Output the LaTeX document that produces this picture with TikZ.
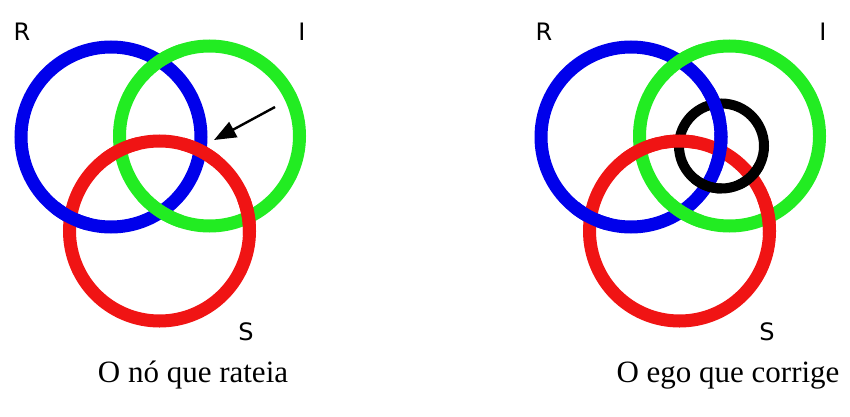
\documentclass[tikz,border=0pt]{standalone}
\usepackage{fontspec}
\setmainfont{Liberation Serif}
\newfontfamily\labelfont{DejaVu Sans}
\usetikzlibrary{arrows.meta}
\definecolor{ringblue}{RGB}{0,0,235}
\definecolor{ringgreen}{RGB}{34,236,34}
\definecolor{ringred}{RGB}{240,20,20}
\tikzset{
  ring/.style={line width=13pt},
  egoring/.style={line width=10pt, black},
  letter/.style={font=\labelfont\fontsize{24}{28}\selectfont, inner sep=0pt},
  caption/.style={font=\fontsize{31}{36}\selectfont, inner sep=0pt, anchor=base},
}
\begin{document}
\begin{tikzpicture}[x=1pt, y=1pt]
  \useasboundingbox (0,0) rectangle (850,416);

  % left knot
  \coordinate (BL) at (111,279);
  \coordinate (GL) at (209.5,280);
  \coordinate (RL) at (159.5,185);
  \draw[ring, ringblue] (BL) circle[radius=90];
  \draw[ring, ringgreen] (GL) circle[radius=90];
  \draw[ring, ringred] (RL) circle[radius=90];
  % crossings
  \draw[ring, ringgreen] (GL) ++(108.2:90) arc[start angle=108.2, end angle=138.2, radius=90];
  \draw[ring, ringgreen] (GL) ++(221.8:90) arc[start angle=221.8, end angle=251.8, radius=90];
  \draw[ring, ringred] (RL) ++(103.6:90) arc[start angle=103.6, end angle=127.6, radius=90];
  \draw[ring, ringred] (RL) ++(-3.1:90) arc[start angle=-3.1, end angle=20.9, radius=90];
  \draw[ring, ringred] (RL) ++(51.3:90) arc[start angle=51.3, end angle=75.3, radius=90];
  \draw[ring, ringblue] (BL) ++(231.3:90) arc[start angle=231.3, end angle=255.3, radius=90];

  \node[letter] (rleft) at (22,384) {R};
  \node[letter] (ileft) at (302,384) {I};
  \node[letter] (sleft) at (246,84) {S};

  \coordinate (arrtail) at (275,309);
  \coordinate (arrtip) at (214,276);
  \draw[line width=2.4pt, -{Triangle[length=22pt, width=17pt]}] (arrtail) -- (arrtip);

  % right knot
  \begin{scope}[xshift=520]
    \coordinate (BR) at (111,279);
    \coordinate (GR) at (209.5,280);
    \coordinate (RR) at (159.5,185);
    \coordinate (KR) at (201.5,270);
    \draw[ring, ringblue] (BR) circle[radius=90];
    \draw[ring, ringgreen] (GR) circle[radius=90];
    \draw[ring, ringred] (RR) circle[radius=90];
    \draw[egoring] (KR) circle[radius=42.5];
    % crossings
    \draw[ring, ringgreen] (GR) ++(108.2:90) arc[start angle=108.2, end angle=138.2, radius=90];
    \draw[ring, ringgreen] (GR) ++(221.8:90) arc[start angle=221.8, end angle=251.8, radius=90];
    \draw[ring, ringred] (RR) ++(103.6:90) arc[start angle=103.6, end angle=127.6, radius=90];
    \draw[ring, ringred] (RR) ++(-3.1:90) arc[start angle=-3.1, end angle=20.9, radius=90];
    \draw[ring, ringblue] (BR) ++(-20.7:90) arc[start angle=-20.7, end angle=3.3, radius=90];
    \draw[ring, ringblue] (BR) ++(231.3:90) arc[start angle=231.3, end angle=255.3, radius=90];
    % ego ring
    \draw[ring, ringblue] (BR) ++(11.5:90) arc[start angle=11.5, end angle=31.5, radius=90];
    \draw[ring, ringred] (RR) ++(80:90) arc[start angle=80, end angle=100, radius=90];
    \draw[egoring] (KR) ++(230:42.5) arc[start angle=230, end angle=270, radius=42.5];
    \draw[egoring] (KR) ++(-65.8:42.5) arc[start angle=-65.8, end angle=-25.8, radius=42.5];
  \end{scope}

  \node[letter] (rright) at (544,384) {R};
  \node[letter] (iright) at (823,384) {I};
  \node[letter] (sright) at (767,84) {S};

  \node[caption] (capleft) at (193,34) {O nó que rateia};
  \node[caption] (capright) at (728,34) {O ego que corrige};
\end{tikzpicture}
\end{document}
